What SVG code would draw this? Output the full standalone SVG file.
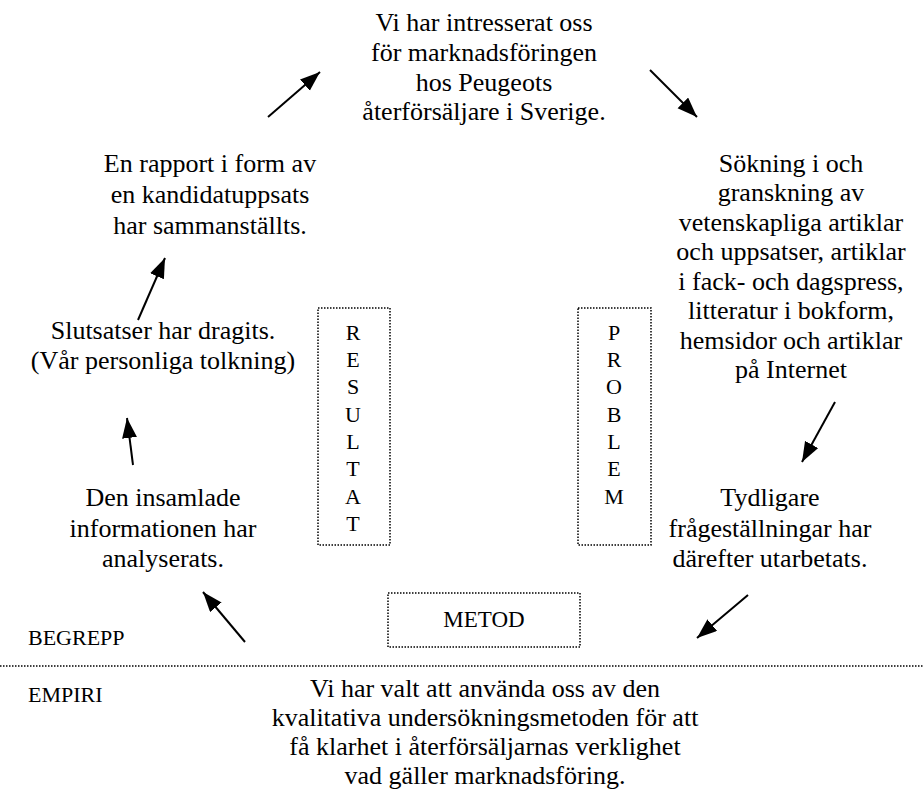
<svg xmlns="http://www.w3.org/2000/svg" width="924" height="794" viewBox="0 0 924 794">
<style>
.b{font-size:26px;text-anchor:middle}
.l{font-size:22px;text-anchor:middle}
.s{font-size:22px}
.dot{fill:none;stroke:#000;stroke-width:1.5;stroke-dasharray:1.5 1.5}
.arr{stroke:#000;stroke-width:2;fill:none;marker-end:url(#ah)}
</style>
<defs>
<marker id="ah" markerUnits="userSpaceOnUse" markerWidth="22" markerHeight="16" refX="20" refY="7.5" orient="auto">
<path d="M0,0 L20,7.5 L0,15 z" fill="#000"/>
</marker>
</defs>
<rect width="924" height="794" fill="#fff"/>
<g font-family="'Liberation Serif', 'Times New Roman', Tinos, 'DejaVu Serif', serif" fill="#000">
<g id="start">
<text class="b" x="484" y="31">Vi har intresserat oss</text>
<text class="b" x="484" y="61">för marknadsföringen</text>
<text class="b" x="484" y="91">hos Peugeots</text>
<text class="b" x="484" y="120">återförsäljare i Sverige.</text>
</g>
<g id="search">
<text class="b" x="791" y="172">Sökning i och</text>
<text class="b" x="791" y="201">granskning av</text>
<text class="b" x="791" y="231">vetenskapliga artiklar</text>
<text class="b" x="791" y="260">och uppsatser, artiklar</text>
<text class="b" x="791" y="290">i fack- och dagspress,</text>
<text class="b" x="791" y="319">litteratur i bokform,</text>
<text class="b" x="791" y="349">hemsidor och artiklar</text>
<text class="b" x="791" y="378">på Internet</text>
</g>
<g id="questions">
<text class="b" x="770" y="506">Tydligare</text>
<text class="b" x="770" y="537">frågeställningar har</text>
<text class="b" x="770" y="567">därefter utarbetats.</text>
</g>
<g id="method">
<text class="b" x="485" y="697">Vi har valt att använda oss av den</text>
<text class="b" x="485" y="726">kvalitativa undersökningsmetoden för att</text>
<text class="b" x="485" y="755">få klarhet i återförsäljarnas verklighet</text>
<text class="b" x="485" y="784">vad gäller marknadsföring.</text>
</g>
<g id="analysis">
<text class="b" x="163" y="506">Den insamlade</text>
<text class="b" x="163" y="537">informationen har</text>
<text class="b" x="163" y="567">analyserats.</text>
</g>
<g id="conclusions">
<text class="b" x="163" y="339">Slutsatser har dragits.</text>
<text class="b" x="163" y="369">(Vår personliga tolkning)</text>
</g>
<g id="report">
<text class="b" x="210" y="172">En rapport i form av</text>
<text class="b" x="210" y="203">en kandidatuppsats</text>
<text class="b" x="210" y="234">har sammanställts.</text>
</g>
<g id="resultat">
<rect class="dot" x="318" y="308" width="72" height="237"/>
<text class="l" x="353" y="340">R</text>
<text class="l" x="353" y="367">E</text>
<text class="l" x="353" y="394">S</text>
<text class="l" x="353" y="422">U</text>
<text class="l" x="353" y="449">L</text>
<text class="l" x="353" y="476">T</text>
<text class="l" x="353" y="504">A</text>
<text class="l" x="353" y="531">T</text>
</g>
<g id="problem">
<rect class="dot" x="578" y="308" width="73" height="237"/>
<text class="l" x="614" y="340">P</text>
<text class="l" x="614" y="367">R</text>
<text class="l" x="614" y="394">O</text>
<text class="l" x="614" y="422">B</text>
<text class="l" x="614" y="449">L</text>
<text class="l" x="614" y="476">E</text>
<text class="l" x="614" y="504">M</text>
</g>
<g id="metod">
<rect class="dot" x="388" y="593" width="192" height="54"/>
<text class="l" x="484" y="627" style="font-size:23px">METOD</text>
</g>
<g id="levels">
<text class="s" x="28" y="645">BEGREPP</text>
<line class="dot" x1="0" y1="666" x2="924" y2="666"/>
<text class="s" x="28" y="702">EMPIRI</text>
</g>
</g>
<g id="connectors">
<line class="arr" x1="268" y1="117" x2="320" y2="72"/>
<line class="arr" x1="650" y1="70" x2="697" y2="117"/>
<line class="arr" x1="835" y1="402" x2="802" y2="462"/>
<line class="arr" x1="748" y1="595" x2="697" y2="638"/>
<line class="arr" x1="245" y1="642" x2="203" y2="592"/>
<line class="arr" x1="133" y1="465" x2="127" y2="418"/>
<line class="arr" x1="138" y1="320" x2="165" y2="258"/>
</g>
</svg>
